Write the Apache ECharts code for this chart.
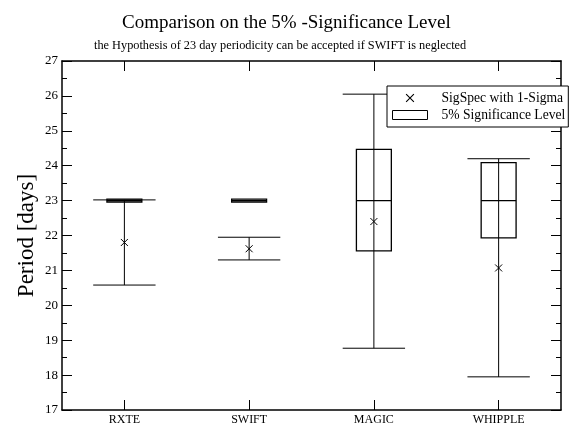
<!DOCTYPE html>
<html>
<head>
<meta charset="utf-8">
<script src="https://cdn.jsdelivr.net/npm/echarts@6/dist/echarts.min.js"></script>
<style>
  html, body { margin: 0; padding: 0; background: #fff; }
  #chart { width: 578px; height: 428px; }
</style>
</head>
<body>
<div id="chart"></div>
<script>
const categories = ['RXTE', 'SWIFT', 'MAGIC', 'WHIPPLE'];
// SigSpec period with its 1-sigma range
const sigspecPeriod = [21.8, 21.62, 22.4, 21.07];
const sigmaLow = [20.58, 21.3, 18.77, 17.95];
const sigmaHigh = [23.02, 21.95, 26.05, 24.2];
// 5% significance level box
const levelLow = [22.96, 22.96, 21.56, 21.93];
const levelMid = [23, 23, 23, 23];
const levelHigh = [23.04, 23.04, 24.47, 24.09];
const yMin = 17, yMax = 27, yStep = 1;

const FONT = 'Liberation Serif';

const boxData = categories.map((c, i) => [i, levelLow[i], levelMid[i], levelHigh[i]]);
const sigmaData = categories.map((c, i) => [i, sigspecPeriod[i], sigmaLow[i], sigmaHigh[i]]);

function renderBox(params, api) {
  const i = api.value(0);
  const bot = api.coord([i, api.value(1)]);
  const mid = api.coord([i, api.value(2)]);
  const top = api.coord([i, api.value(3)]);
  const w = api.size([1, 0])[0] * 0.28;
  return {
    type: 'group',
    children: [
      { type: 'rect', shape: { x: top[0] - w / 2, y: top[1], width: w, height: bot[1] - top[1] },
        style: { fill: 'none', stroke: '#000', lineWidth: 1.3 } },
      { type: 'line', shape: { x1: mid[0] - w / 2, y1: mid[1], x2: mid[0] + w / 2, y2: mid[1] },
        style: { stroke: '#000', lineWidth: 1.3 } }
    ]
  };
}

function renderSigma(params, api) {
  const i = api.value(0);
  const c = api.coord([i, api.value(1)]);
  const lo = api.coord([i, api.value(2)]);
  const hi = api.coord([i, api.value(3)]);
  const w = api.size([1, 0])[0] * 0.5;
  const s = 3.5;
  const st = { stroke: '#000', lineWidth: 1 };
  return {
    type: 'group',
    children: [
      { type: 'line', shape: { x1: lo[0], y1: lo[1], x2: hi[0], y2: hi[1] }, style: st },
      { type: 'line', shape: { x1: lo[0] - w / 2, y1: lo[1], x2: lo[0] + w / 2, y2: lo[1] }, style: st },
      { type: 'line', shape: { x1: hi[0] - w / 2, y1: hi[1], x2: hi[0] + w / 2, y2: hi[1] }, style: st },
      { type: 'line', shape: { x1: c[0] - s, y1: c[1] - s, x2: c[0] + s, y2: c[1] + s }, style: st },
      { type: 'line', shape: { x1: c[0] - s, y1: c[1] + s, x2: c[0] + s, y2: c[1] - s }, style: st }
    ]
  };
}

// filled X shape padded to a 36x9 box so it sits centred in the legend icon slot
const crossIcon = 'path://M0,0L0.01,0L0.01,0.01Z M36,9L35.99,9L35.99,8.99Z ' +
  'M14.4,0.1L22.4,8.1L21.6,8.9L13.6,0.9Z M22.4,0.9L14.4,8.9L13.6,8.1L21.6,0.1Z';

const chart = echarts.init(document.getElementById('chart'));

const axisLine = { show: true, lineStyle: { color: '#000', width: 1.5 } };

chart.setOption({
  animation: false,
  textStyle: { fontFamily: FONT },
  title: [
    {
      text: 'Comparison on the 5% -Significance Level',
      left: 117,
      top: 9,
      textStyle: { fontFamily: FONT, fontSize: 19, fontWeight: 'normal', color: '#000' }
    },
    {
      text: 'the Hypothesis of 23 day periodicity can be accepted if SWIFT is neglected',
      left: 89,
      top: 35,
      textStyle: { fontFamily: FONT, fontSize: 12.3, fontWeight: 'normal', color: '#000' }
    }
  ],
  legend: {
    orient: 'vertical',
    left: 387,
    top: 86,
    padding: [5, 3, 5, 5],
    itemGap: 3,
    itemWidth: 35,
    itemHeight: 9,
    borderColor: '#000',
    borderWidth: 1,
    backgroundColor: '#fff',
    selectedMode: false,
    textStyle: { fontFamily: FONT, fontSize: 13.6, color: '#000', padding: [0, 0, 0, 9] },
    data: [
      { name: 'SigSpec with 1-Sigma', icon: crossIcon, itemStyle: { color: '#000', borderWidth: 0 } },
      { name: '5% Significance Level', icon: 'rect', itemStyle: { color: '#fff', borderColor: '#000', borderWidth: 1 } }
    ]
  },
  grid: { left: 62, right: 17, top: 61, bottom: 18 },
  xAxis: [
    {
      type: 'category',
      data: categories,
      boundaryGap: true,
      axisLine: axisLine,
      axisTick: { show: true, alignWithLabel: true, inside: true, length: 10, lineStyle: { color: '#000' } },
      axisLabel: { color: '#000', fontFamily: FONT, fontSize: 12, margin: 4 },
      splitLine: { show: false }
    },
    {
      type: 'category',
      position: 'top',
      data: categories,
      boundaryGap: true,
      axisLine: axisLine,
      axisTick: { show: true, alignWithLabel: true, inside: true, length: 10, lineStyle: { color: '#000' } },
      axisLabel: { show: false },
      splitLine: { show: false }
    }
  ],
  yAxis: [
    {
      type: 'value',
      min: yMin,
      max: yMax,
      interval: yStep,
      name: 'Period [days]',
      nameLocation: 'middle',
      nameGap: 24,
      nameMoveOverlap: false,
      nameTextStyle: { fontFamily: FONT, fontSize: 23, color: '#000' },
      axisLine: axisLine,
      axisTick: { show: true, inside: true, length: 10, lineStyle: { color: '#000' } },
      minorTick: { show: true, splitNumber: 2, length: 5, lineStyle: { color: '#000' } },
      axisLabel: { color: '#000', fontFamily: FONT, fontSize: 13, margin: 4 },
      splitLine: { show: false }
    },
    {
      type: 'value',
      position: 'right',
      min: yMin,
      max: yMax,
      interval: yStep,
      axisLine: axisLine,
      axisTick: { show: true, inside: true, length: 10, lineStyle: { color: '#000' } },
      minorTick: { show: true, splitNumber: 2, length: 5, lineStyle: { color: '#000' } },
      axisLabel: { show: false },
      splitLine: { show: false }
    }
  ],
  series: [
    {
      name: '5% Significance Level',
      type: 'custom',
      silent: true,
      itemStyle: { color: '#000' },
      renderItem: renderBox,
      encode: { x: 0, y: [1, 2, 3] },
      data: boxData,
      z: 2
    },
    {
      name: 'SigSpec with 1-Sigma',
      type: 'custom',
      silent: true,
      itemStyle: { color: '#000' },
      renderItem: renderSigma,
      encode: { x: 0, y: [1, 2, 3] },
      data: sigmaData,
      z: 3
    }
  ]
});
</script>
</body>
</html>
